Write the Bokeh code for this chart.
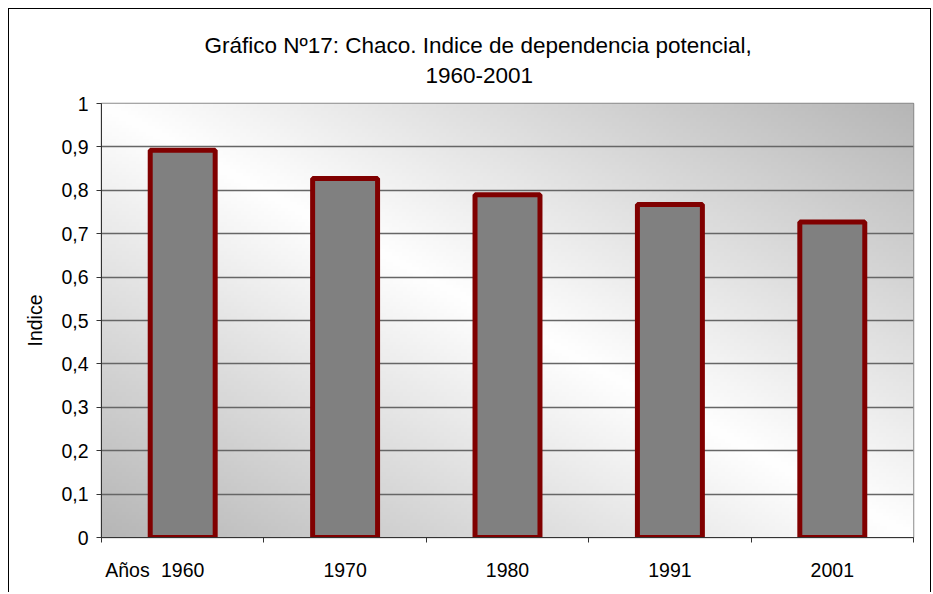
import numpy as np
from bokeh.plotting import figure
from bokeh.models import (Range1d, FixedTicker, CustomJSTickFormatter, Title,
                          ColumnDataSource)
from bokeh.embed import file_html
from bokeh.resources import INLINE

# ---- data -------------------------------------------------------------
years = ["1960", "1970", "1980", "1991", "2001"]
indice = [0.892, 0.827, 0.790, 0.767, 0.727]
y_ticks = [0, 0.1, 0.2, 0.3, 0.4, 0.5, 0.6, 0.7, 0.8, 0.9, 1.0]

title_line1 = "Gráfico Nº17: Chaco. Indice de dependencia potencial,"
title_line2 = "1960-2001"
x_title = "Años"
y_title = "Indice"

# ---- layout / style ---------------------------------------------------
FONT = "Liberation Sans"
TICK_SIZE = "19.5px"
TITLE_SIZE = "22.5px"
X_TITLE_POS = 0.16          # where the "Años" caption sits along the x axis
n = len(years)
xpos = [i + 0.5 for i in range(n)]
src = ColumnDataSource(dict(year=years, x=xpos, indice=indice))

W, H = 923, 584
p = figure(width=W, height=H, output_backend="svg", toolbar_location=None,
           x_range=Range1d(0, n), y_range=Range1d(0, 1),
           min_border_left=92, min_border_right=19, min_border_top=94,
           min_border_bottom=56)

# titles: spacer (closest to the plot), second line, first line (outermost)
spacer = Title(text=" ", text_font_size="1px", standoff=12)
p.add_layout(spacer, "above")
t2 = Title(text=title_line2, align="left", offset=324, text_font=FONT,
           text_font_size=TITLE_SIZE, text_font_style="normal", text_color="black",
           standoff=12)
p.add_layout(t2, "above")
p.title.text = title_line1
p.title.align = "left"
p.title.offset = 103
p.title.text_font = FONT
p.title.text_font_size = TITLE_SIZE
p.title.text_font_style = "normal"
p.title.text_color = "black"
p.title.standoff = 4

# background gradient (style only)
GH, GW = 120, 240
s = np.linspace(0, 1, GW)[None, :]
t_top = 1 - np.linspace(0, 1, GH)[:, None]
d = np.abs(s - t_top)
g = (255 - (255 - 182) * d).astype(np.uint8)
img = np.empty((GH, GW), dtype=np.uint32)
view = img.view(dtype=np.uint8).reshape((GH, GW, 4))
view[..., 0] = g
view[..., 1] = g
view[..., 2] = g
view[..., 3] = 255
p.image_rgba(image=[img], x=p.x_range.start, y=p.y_range.start,
             dw=p.x_range.end - p.x_range.start, dh=p.y_range.end - p.y_range.start,
             level="image")

# bars
p.vbar(x="x", top="indice", bottom=0, width=0.4, source=src,
       fill_color="#808080", line_color="#800000", line_width=5)

# grid
p.xgrid.grid_line_color = None
p.ygrid.ticker = FixedTicker(ticks=y_ticks)
p.ygrid.grid_line_color = "#666666"
p.ygrid.grid_line_width = 1.5

p.outline_line_color = "#8a8a8a"
p.outline_line_width = 1.5
p.background_fill_color = "white"
p.border_fill_color = "white"

# y axis
ya = p.yaxis[0]
ya.ticker = FixedTicker(ticks=y_ticks)
ya.formatter = CustomJSTickFormatter(code="""
const s = (Math.round(tick*10)/10).toString();
return s.replace('.', ',');
""")
ya.major_tick_out = 5
ya.major_tick_in = 0
ya.minor_tick_line_color = None
ya.axis_line_color = "#333333"
ya.major_tick_line_color = "#333333"
ya.major_label_text_font = FONT
ya.major_label_text_font_size = TICK_SIZE
ya.major_label_text_color = "black"
ya.major_label_standoff = 8
ya.axis_label = y_title
ya.axis_label_text_font = FONT
ya.axis_label_text_font_size = TICK_SIZE
ya.axis_label_text_font_style = "normal"
ya.axis_label_text_color = "black"
ya.axis_label_standoff = 12

# x axis: year labels at category centres, tick marks at category edges,
# plus the "Años" caption at the left end
xa = p.xaxis[0]
xa.ticker = FixedTicker(ticks=[X_TITLE_POS] + xpos, minor_ticks=list(range(n + 1)))
xa.formatter = CustomJSTickFormatter(args=dict(labels=years, first=x_title, lim=X_TITLE_POS + 0.1),
                                     code="if (tick < lim) return first; return labels[Math.floor(tick)] ?? '';")
xa.major_tick_out = 0
xa.major_tick_in = 0
xa.minor_tick_out = 5
xa.minor_tick_in = 0
xa.minor_tick_line_color = "#333333"
xa.axis_line_color = "#333333"
xa.major_label_text_font = FONT
xa.major_label_text_font_size = TICK_SIZE
xa.major_label_text_color = "black"
xa.major_label_standoff = 16

p.styles = {"margin-left": "8px", "margin-top": "8px",
            "border-top": "1px solid #000", "border-left": "1px solid #000",
            "border-right": "1px solid #000"}

open("out.html", "w").write(file_html(p, INLINE))
